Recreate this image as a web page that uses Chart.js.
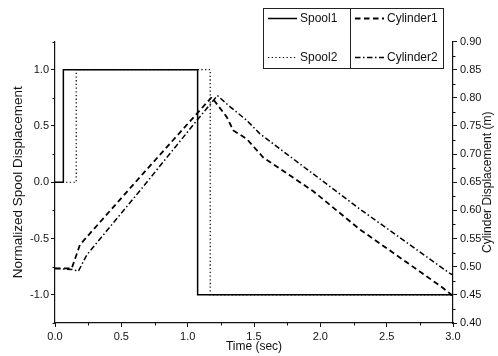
<!DOCTYPE html>
<html>
<head>
<meta charset="utf-8">
<script src="https://cdn.jsdelivr.net/npm/chart.js@4.4.1/dist/chart.umd.min.js"></script>
<style>
  html, body { margin: 0; padding: 0; background: #fff; }
  #wrap { width: 498px; height: 356px; }
</style>
</head>
<body>
<div id="wrap"><canvas id="chart"></canvas></div>
<script>
// values
const spool1Time = [0, 0.063, 0.063, 1.075, 1.075, 3.0];
const spool1Value = [0, 0, 1, 1, -1, -1];
const spool2Time = [0, 0.16, 0.16, 1.17, 1.17, 3.0];
const spool2Value = [0, 0, 1, 1, -1, -1];

const cyl1Time = [0, 0.126, 0.188, 0.67, 1.07, 1.181, 1.294, 1.344, 1.445, 1.57, 1.947, 2.299, 2.915, 3.0];
const cyl1Value = [0.497, 0.497, 0.539, 0.667, 0.772, 0.801, 0.766, 0.742, 0.727, 0.694, 0.634, 0.566, 0.464, 0.448];
const cyl2Time = [0, 0.13, 0.176, 0.24, 0.64, 1.07, 1.224, 1.32, 1.445, 1.545, 2.30, 2.977, 3.0];
const cyl2Value = [0.497, 0.495, 0.492, 0.521, 0.635, 0.760, 0.804, 0.784, 0.760, 0.736, 0.602, 0.488, 0.485];

const xTicks = [0, 0.5, 1.0, 1.5, 2.0, 2.5, 3.0];
const xTickLabels = ['0.0', '0.5', '1.0', '1.5', '2.0', '2.5', '3.0'];
const leftTicks = [-1.0, -0.5, 0.0, 0.5, 1.0];
const leftTickLabels = ['-1.0', '-0.5', '0.0', '0.5', '1.0'];
const rightTicks = [0.40, 0.45, 0.50, 0.55, 0.60, 0.65, 0.70, 0.75, 0.80, 0.85, 0.90];
const rightTickLabels = ['0.40', '0.45', '0.50', '0.55', '0.60', '0.65', '0.70', '0.75', '0.80', '0.85', '0.90'];

const FONT = 'Liberation Sans, Arial, sans-serif';
const INK = '#111';

function pts(t, v) {
  return t.map((x, i) => ({ x: x, y: v[i] }));
}

function setTicks(list) {
  return scale => { scale.ticks = list.map(v => ({ value: v })); };
}

// midpoints between the major ticks, plus half a step past each end if inside the range
function minorOf(list, min, max) {
  const out = [];
  const step = list[1] - list[0];
  const all = [list[0] - step / 2].concat(list.map(v => v + step / 2));
  all.forEach(v => { if (v >= min - 1e-9 && v <= max + 1e-9) out.push(v); });
  return out;
}

const decor = {
  id: 'decor',
  afterDraw(chart) {
    const ctx = chart.ctx;
    const sx = chart.scales.x, sy = chart.scales.y, sr = chart.scales.y1;
    ctx.save();
    ctx.strokeStyle = INK;
    ctx.lineWidth = 1;
    ctx.beginPath();
    minorOf(xTicks, sx.min, sx.max).forEach(v => {
      const p = Math.round(sx.getPixelForValue(v)) + 0.5;
      ctx.moveTo(p, sx.top); ctx.lineTo(p, sx.top + 2.5);
    });
    minorOf(leftTicks, sy.min, sy.max).forEach(v => {
      const p = Math.round(sy.getPixelForValue(v)) + 0.5;
      ctx.moveTo(sy.right, p); ctx.lineTo(sy.right - 2.5, p);
    });
    minorOf(rightTicks, sr.min, sr.max).forEach(v => {
      const p = Math.round(sr.getPixelForValue(v)) + 0.5;
      ctx.moveTo(sr.left, p); ctx.lineTo(sr.left + 2.5, p);
    });
    ctx.stroke();

    // right axis title, reading bottom to top
    ctx.fillStyle = INK;
    ctx.font = '12px ' + FONT;
    ctx.textAlign = 'center';
    ctx.textBaseline = 'middle';
    ctx.translate(487.5, (chart.chartArea.top + chart.chartArea.bottom) / 2);
    ctx.rotate(-Math.PI / 2);
    ctx.fillText('Cylinder Displacement (m)', 0, 0);
    ctx.restore();

    // legend box, two columns
    ctx.save();
    ctx.strokeStyle = '#222';
    ctx.lineWidth = 1;
    ctx.strokeRect(263.5, 8.5, 180, 60);
    ctx.beginPath();
    ctx.moveTo(350.5, 8.5); ctx.lineTo(350.5, 68.5);
    ctx.stroke();
    const cols = [268, 355];
    const rows = [18.5, 57.5];
    ctx.font = '12px ' + FONT;
    ctx.textBaseline = 'middle';
    ctx.textAlign = 'left';
    chart.data.datasets.forEach((ds, i) => {
      const cx = cols[Math.floor(i / 2)];
      const cy = rows[i % 2];
      ctx.strokeStyle = ds.borderColor;
      ctx.lineWidth = ds.borderWidth;
      ctx.setLineDash(ds.borderDash || []);
      ctx.beginPath();
      ctx.moveTo(cx, cy); ctx.lineTo(cx + 29, cy);
      ctx.stroke();
      ctx.setLineDash([]);
      ctx.fillStyle = INK;
      ctx.fillText(ds.label, cx + 32, cy + 0.5);
    });
    ctx.restore();
  }
};

const ctx = document.getElementById('chart').getContext('2d');
ctx.canvas.width = 498;
ctx.canvas.height = 356;

const chart = new Chart(ctx, {
  type: 'line',
  data: {
    datasets: [
      { label: 'Spool1', data: pts(spool1Time, spool1Value), yAxisID: 'y',
        borderColor: '#000', borderWidth: 1.5, borderDash: [] },
      { label: 'Spool2', data: pts(spool2Time, spool2Value), yAxisID: 'y',
        borderColor: '#000', borderWidth: 1.2, borderDash: [1.3, 2.4] },
      { label: 'Cylinder1', data: pts(cyl1Time, cyl1Value), yAxisID: 'y1',
        borderColor: '#000', borderWidth: 1.8, borderDash: [5.5, 3.5] },
      { label: 'Cylinder2', data: pts(cyl2Time, cyl2Value), yAxisID: 'y1',
        borderColor: '#000', borderWidth: 1.5, borderDash: [5.5, 2.5, 1.5, 2.5] }
    ]
  },
  options: {
    responsive: false,
    animation: false,
    layout: { padding: { top: 41.5, left: 0, right: 0, bottom: 0 } },
    elements: { point: { radius: 0 }, line: { tension: 0, fill: false } },
    plugins: { legend: { display: false }, tooltip: { enabled: false } },
    scales: {
      x: {
        type: 'linear', min: 0, max: 3,
        afterBuildTicks: setTicks(xTicks),
        afterFit: s => { s.height = 33; },
        border: { display: true, color: INK, width: 1.2 },
        grid: { drawOnChartArea: false, tickLength: 4, color: INK },
        ticks: { color: INK, font: { family: FONT, size: 11 }, padding: 3, maxRotation: 0,
                 callback: (v, i) => xTickLabels[i] },
        title: { display: true, text: 'Time (sec)', color: INK,
                 font: { family: FONT, size: 12 }, padding: { top: 0, bottom: 2 } }
      },
      y: {
        type: 'linear', position: 'left', min: -1.25, max: 1.25,
        afterBuildTicks: setTicks(leftTicks),
        afterFit: s => { s.width = 55; },
        border: { display: true, color: INK, width: 1.2 },
        grid: { drawOnChartArea: false, tickLength: 4, color: INK },
        ticks: { color: INK, font: { family: FONT, size: 11 }, padding: 2,
                 callback: (v, i) => leftTickLabels[i] },
        title: { display: true, text: 'Normalized Spool Displacement', color: INK,
                 font: { family: FONT, size: 13.5 }, padding: { top: 10, bottom: 0 } }
      },
      y1: {
        type: 'linear', position: 'right', min: 0.40, max: 0.90,
        afterBuildTicks: setTicks(rightTicks),
        afterFit: s => { s.width = 45; },
        border: { display: true, color: INK, width: 1.2 },
        grid: { drawOnChartArea: false, tickLength: 4, color: INK },
        ticks: { color: INK, font: { family: FONT, size: 11 }, padding: 3,
                 callback: (v, i) => rightTickLabels[i] }
      }
    }
  },
  plugins: [decor]
});
</script>
</body>
</html>
